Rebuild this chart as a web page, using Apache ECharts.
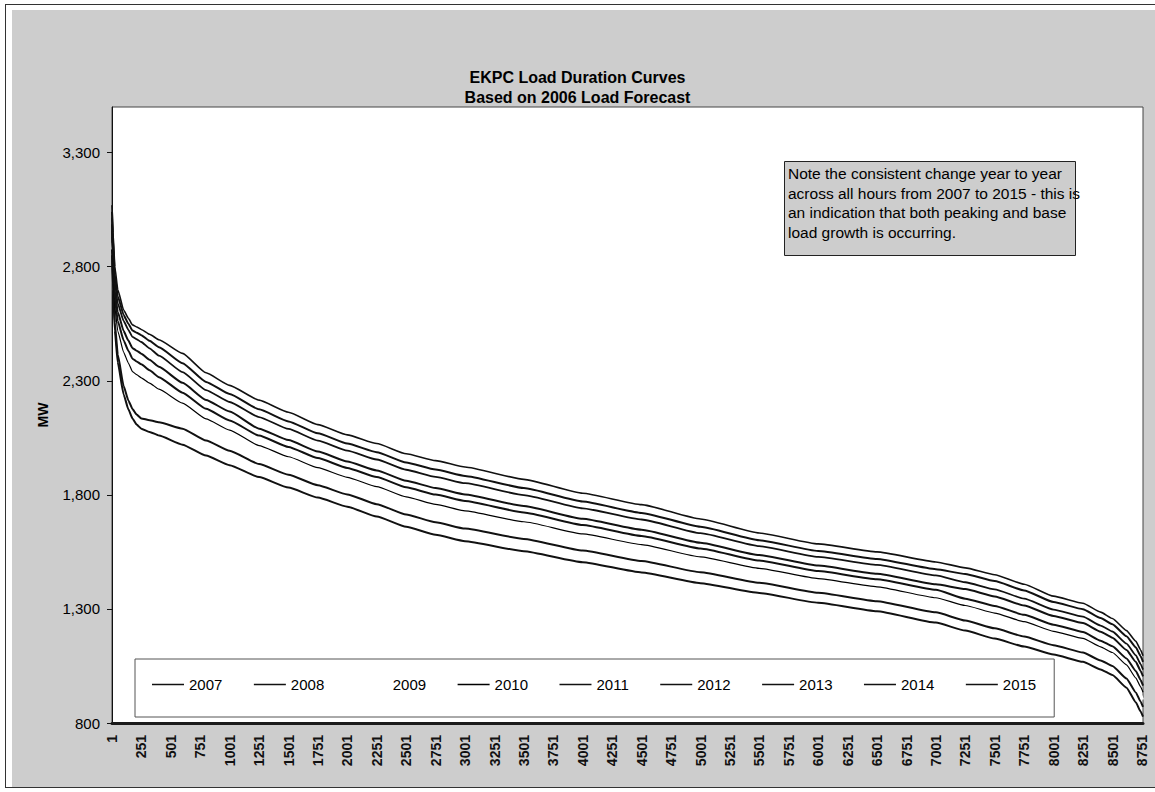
<!DOCTYPE html>
<html>
<head>
<meta charset="utf-8">
<title>EKPC Load Duration Curves</title>
<script src="https://cdn.jsdelivr.net/npm/echarts@6/dist/echarts.min.js"></script>
<style>
  html, body { margin: 0; padding: 0; background: #ffffff; width: 1155px; height: 792px; overflow: hidden; }
  #frame { position: absolute; left: 5px; top: 4px; width: 1160px; height: 784px; border: 1px solid #333; box-sizing: border-box; }
  #panel { position: absolute; left: 12px; top: 10px; width: 1143px; height: 777px; background: #cdcdcd; }
  #chart { position: absolute; left: 0; top: 0; width: 1155px; height: 792px; }
</style>
</head>
<body>
<div id="frame"></div>
<div id="panel"></div>
<div id="chart"></div>
<script>
// Hour of the year (sorted by load, highest first)
const hours = [1, 10, 25, 50, 100, 140, 175, 210, 250, 320, 400, 600, 800, 1000, 1250, 1500, 1750, 2000, 2250, 2500, 2750, 3000, 3500, 4000, 4500, 5000, 5500, 6000, 6500, 7000, 7250, 7500, 7750, 8000, 8250, 8400, 8500, 8620, 8700, 8740, 8760];

// Forecast load (MW) at each hour, one array per year
const mw2007 = [2850, 2700, 2520, 2380, 2240, 2175, 2135, 2108, 2090, 2076, 2060, 2020, 1972, 1930, 1878, 1832, 1788, 1748, 1705, 1660, 1625, 1597, 1553, 1505, 1460, 1413, 1370, 1327, 1290, 1240, 1205, 1170, 1135, 1100, 1068, 1035, 1010, 955, 890, 850, 828];
const mw2008 = [2876, 2730, 2554, 2415, 2277, 2214, 2176, 2152, 2135, 2127, 2118, 2090, 2038, 1993, 1935, 1888, 1842, 1802, 1759, 1714, 1680, 1652, 1607, 1556, 1510, 1461, 1415, 1371, 1334, 1285, 1249, 1215, 1179, 1141, 1109, 1074, 1050, 995, 933, 893, 871];
const mw2009 = [2905, 2763, 2590, 2466, 2351, 2295, 2258, 2242, 2228, 2214, 2197, 2151, 2087, 2039, 1976, 1928, 1881, 1839, 1798, 1753, 1719, 1691, 1644, 1593, 1546, 1494, 1446, 1402, 1365, 1317, 1282, 1248, 1211, 1172, 1140, 1103, 1079, 1025, 965, 926, 903];
const mw2010 = [2931, 2793, 2624, 2518, 2425, 2378, 2340, 2327, 2313, 2290, 2263, 2202, 2133, 2084, 2016, 1967, 1919, 1877, 1836, 1791, 1758, 1730, 1682, 1629, 1582, 1528, 1478, 1433, 1397, 1349, 1315, 1282, 1244, 1202, 1171, 1134, 1109, 1055, 997, 958, 935];
const mw2011 = [2960, 2825, 2660, 2562, 2477, 2432, 2397, 2385, 2372, 2346, 2316, 2248, 2177, 2126, 2060, 2010, 1961, 1918, 1878, 1833, 1801, 1773, 1723, 1668, 1620, 1565, 1512, 1466, 1430, 1384, 1345, 1313, 1274, 1231, 1199, 1161, 1136, 1083, 1027, 988, 964];
const mw2012 = [2986, 2855, 2694, 2601, 2518, 2476, 2443, 2432, 2419, 2392, 2361, 2291, 2216, 2165, 2090, 2040, 1990, 1946, 1907, 1862, 1830, 1802, 1751, 1695, 1647, 1590, 1536, 1490, 1454, 1408, 1387, 1355, 1315, 1269, 1238, 1200, 1174, 1120, 1067, 1028, 1004];
const mw2013 = [3015, 2888, 2730, 2639, 2562, 2523, 2492, 2482, 2470, 2442, 2410, 2338, 2259, 2207, 2141, 2089, 2038, 1994, 1955, 1910, 1879, 1851, 1799, 1741, 1692, 1632, 1575, 1528, 1493, 1447, 1417, 1386, 1345, 1297, 1266, 1227, 1201, 1148, 1096, 1058, 1034];
const mw2014 = [3041, 2918, 2764, 2671, 2588, 2550, 2520, 2511, 2500, 2475, 2447, 2377, 2295, 2242, 2175, 2122, 2070, 2025, 1987, 1942, 1911, 1883, 1830, 1771, 1721, 1660, 1601, 1554, 1519, 1474, 1453, 1422, 1381, 1330, 1299, 1260, 1233, 1180, 1131, 1093, 1068];
const mw2015 = [3070, 2950, 2800, 2700, 2610, 2574, 2545, 2536, 2525, 2504, 2480, 2420, 2335, 2280, 2215, 2162, 2108, 2063, 2025, 1980, 1950, 1922, 1868, 1807, 1757, 1694, 1633, 1585, 1550, 1506, 1480, 1450, 1408, 1356, 1325, 1286, 1258, 1205, 1158, 1120, 1095];

const years = ['2007', '2008', '2009', '2010', '2011', '2012', '2013', '2014', '2015'];
const loads = [mw2007, mw2008, mw2009, mw2010, mw2011, mw2012, mw2013, mw2014, mw2015];

// Line appearance per year (2009 is printed in a colour that does not show)
const lineColors = ['#111', '#111', '#ffffff', '#000', '#111', '#111', '#111', '#111', '#111'];
const lineWidths = [2, 2, 2, 1.2, 2, 2, 1.8, 2, 1.6];

const noteText = [
  'Note the consistent change year to year',
  'across all hours from 2007 to 2015 - this is',
  'an indication that both peaking and base',
  'load growth is occurring.'
].join('\n');

const FONT = '"Liberation Sans", Arial, sans-serif';

const series = years.map((y, i) => ({
  name: y,
  type: 'line',
  data: hours.map((h, k) => [h, loads[i][k]]),
  showSymbol: false,
  symbol: 'none',
  smooth: 0.15,
  smoothMonotone: 'x',
  z: i === 2 ? 1 : 3,
  lineStyle: { color: lineColors[i], width: lineWidths[i], join: 'round' },
  itemStyle: { color: lineColors[i] },
  emphasis: { disabled: true },
  animation: false
}));

const chart = echarts.init(document.getElementById('chart'), null, { renderer: 'svg' });
chart.setOption({
  backgroundColor: 'transparent',
  animation: false,
  textStyle: { fontFamily: FONT },
  title: {
    text: 'EKPC Load Duration Curves\nBased on 2006 Load Forecast',
    left: 'center',
    top: 62,
    textStyle: { fontFamily: FONT, fontSize: 16, fontWeight: 'bold', color: '#000', lineHeight: 20 }
  },
  grid: {
    left: 112, top: 107, width: 1031, height: 616,
    show: true, backgroundColor: '#ffffff', borderColor: '#444', borderWidth: 1
  },
  xAxis: {
    type: 'value',
    min: 1, max: 8760, interval: 250,
    axisLine: { show: true, lineStyle: { color: '#1a1a1a', width: 3 } },
    axisTick: { show: false },
    splitLine: { show: false },
    axisLabel: {
      rotate: 90, margin: 12, showMaxLabel: false,
      fontFamily: FONT, fontSize: 14, fontWeight: 'bold', color: '#111',
      formatter: v => String(v)
    }
  },
  yAxis: {
    type: 'value',
    min: 800, max: 3500, interval: 500,
    name: 'MW', nameLocation: 'middle', nameRotate: 90, nameGap: 62,
    nameTextStyle: { fontFamily: FONT, fontSize: 14, fontWeight: 'bold', color: '#000' },
    axisLine: { show: true, lineStyle: { color: '#111', width: 1 } },
    axisTick: { show: true, inside: false, length: 5, lineStyle: { color: '#111' } },
    splitLine: { show: false },
    axisLabel: {
      margin: 12, showMaxLabel: false,
      fontFamily: FONT, fontSize: 15, color: '#000',
      formatter: v => v.toLocaleString('en-US')
    }
  },
  legend: {
    data: years,
    left: 135, top: 659,
    orient: 'horizontal',
    icon: 'rect',
    padding: [17, 18, 24, 17],
    itemWidth: 32, itemHeight: 1.5, itemGap: 31.5,
    backgroundColor: '#ffffff', borderColor: '#555', borderWidth: 1,
    textStyle: { fontFamily: FONT, fontSize: 15, color: '#000', lineHeight: 17 },
    selectedMode: false
  },
  graphic: [
    {
      type: 'rect', z: 10,
      shape: { x: 784.5, y: 161.5, width: 291, height: 94 },
      style: { fill: '#cdcdcd', stroke: '#222', lineWidth: 1 }
    },
    {
      type: 'text', z: 11,
      style: { x: 788, y: 164, text: noteText, fontFamily: FONT, fontSize: 15.5, lineHeight: 19.5, fill: '#000' }
    }
  ],
  series: series
});
</script>
</body>
</html>
